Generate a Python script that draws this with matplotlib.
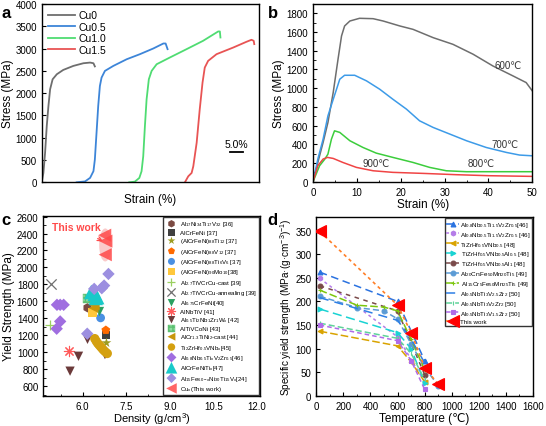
import matplotlib
matplotlib.use('Agg')
import matplotlib.pyplot as plt
from matplotlib.patches import Ellipse
import numpy as np

plt.rcParams['font.family'] = ['Liberation Sans', 'DejaVu Sans']
plt.rcParams['mathtext.fontset'] = 'custom'
plt.rcParams['mathtext.rm'] = 'Liberation Sans'
plt.rcParams['mathtext.it'] = 'Liberation Sans:italic'
plt.rcParams['mathtext.bf'] = 'Liberation Sans:bold'
plt.rcParams['axes.linewidth'] = 1.0

# ---------------- Panel a data: engineering stress-strain (shifted curves) ----
a_labels = ['Cu0', 'Cu0.5', 'Cu1.0', 'Cu1.5']
a_colors = ['#6e6e6e', '#3d85d8', '#4fdc72', '#e85454']
cu0_x = [0, 0.6, 1.2, 1.8, 2.4, 3.0, 3.9, 5.4, 7.7, 11.3, 14.9, 17.3, 18.5, 19.0]
cu0_y = [0, 210, 660, 1260, 1710, 2086, 2311, 2424, 2521, 2611, 2671, 2686, 2671, 2600]
cu05_x = [12.5, 15.5, 17.3, 18.5, 19.0, 19.6, 20.2, 20.8, 21.4, 22.6, 25.6, 30.4, 35.1, 39.9, 43.5, 44.3, 45.0]
cu05_y = [0, 20, 100, 250, 510, 1110, 1711, 2161, 2349, 2499, 2611, 2761, 2874, 3002, 3114, 3114, 2987]
cu10_x = [31.3, 33.3, 34.9, 35.7, 36.3, 36.9, 37.5, 38.3, 39.3, 41.1, 45.8, 51.8, 57.7, 63.1, 63.7, 63.9]
cu10_y = [0, 15, 98, 248, 585, 1261, 1861, 2311, 2499, 2649, 2799, 2987, 3174, 3384, 3384, 3249]
cu15_x = [51.2, 52.4, 53.6, 54.2, 55.4, 56.5, 57.5, 58.3, 59.5, 62.5, 68.5, 73.2, 75.0, 75.8, 76.0]
cu15_y = [0, 135, 210, 360, 886, 1636, 2236, 2574, 2724, 2874, 3024, 3152, 3197, 3174, 3100]
a_x = [cu0_x, cu05_x, cu10_x, cu15_x]
a_y = [cu0_y, cu05_y, cu10_y, cu15_y]

# ---------------- Panel b data: high temperature compression ----------------
b_labels = ['600℃', '700℃', '800℃', '900℃']
b_colors = ['#6e6e6e', '#3d9be8', '#3ccd3c', '#f04444']
t600_x = [0, 1.1, 2.3, 3.4, 4.6, 5.7, 6.5, 7.2, 8.4, 10.6, 13.7, 16.0, 19.8, 22.8, 27.4, 31.9, 36.5, 41.0, 45.6, 48.6, 50]
t600_y = [0, 206, 420, 633, 953, 1309, 1558, 1665, 1718, 1747, 1743, 1718, 1665, 1629, 1540, 1469, 1363, 1238, 1131, 1060, 971]
t700_x = [0, 1.1, 2.3, 3.4, 4.6, 5.3, 6.1, 7.2, 9.5, 12.2, 15.2, 18.2, 21.3, 24.3, 27.4, 31.2, 35.0, 39.5, 44.1, 47.1, 50]
t700_y = [0, 242, 455, 704, 880, 980, 1096, 1138, 1138, 1078, 989, 882, 776, 651, 580, 509, 438, 366, 313, 285, 277]
t800_x = [0, 1.5, 2.7, 3.4, 4.2, 4.9, 6.1, 8.4, 11.4, 14.4, 18.2, 22.8, 26.6, 30.4, 35.0, 41.0, 50]
t800_y = [0, 171, 242, 295, 455, 544, 527, 438, 366, 306, 260, 206, 153, 117, 107, 107, 107]
t900_x = [0, 1.1, 2.3, 3.3, 4.6, 6.8, 9.9, 13.7, 18.2, 25.1, 32.7, 40.3, 50]
t900_y = [0, 171, 242, 260, 249, 206, 153, 117, 100, 89, 75, 64, 57]
b_x = [t600_x, t700_x, t800_x, t900_x]
b_y = [t600_y, t700_y, t800_y, t900_y]
b_lab_pos = [(44.5, 1245), (43.7, 402), (38.4, 196), (14.4, 196)]

# ---------------- Panel c data: yield strength vs density --------------------
c_labels = [
    'Al$_{17}$Ni$_{34}$Ti$_{17}$V$_{32}$ [36]',
    'AlCrFeNi [37]',
    '(AlCrFeNi)$_{88}$Ti$_{12}$ [37]',
    '(AlCrFeNi)$_{88}$V$_{12}$ [37]',
    '(AlCrFeNi)$_{88}$Ti$_{6}$V$_{6}$ [37]',
    '(AlCrFeNi)$_{90}$Mo$_{10}$[38]',
    'Al$_{2.7}$TiVCrCu-cast [39]',
    'Al$_{2.7}$TiVCrCu-annealing [39]',
    'Al$_{0.75}$CrFeNi[40]',
    'AlNbTiV [41]',
    'Al$_{0.5}$Ti$_{2}$Nb$_{1}$Zr$_{1}$W$_{\\mathrm{x}}$ [42]',
    'AlTiVCoNi [43]',
    'AlCr$_{1.3}$TiNi$_{2}$-cast [44]',
    'Ti$_{2}$ZrHf$_{0.5}$VNb$_{\\mathrm{x}}$[45]',
    'Al$_{0.8}$Nb$_{0.5}$Ti$_{\\mathrm{x}}$V$_{2}$Zr$_{0.5}$[46]',
    'AlCrFeNiTi$_{\\mathrm{x}}$[47]',
    'Al$_{15}$Fe$_{60-x}$Ni$_{30}$Ti$_{15}$V$_{\\mathrm{x}}$[24]',
    'Cu$_{\\mathrm{x}}$(This work)',
]
c_density = [
    [6.17], [6.80], [6.82], [6.80], [6.62], [6.35], [4.89], [4.91], [6.58], [5.54],
    [5.57, 5.86, 6.17, 6.77], [6.18], [6.42, 6.38],
    [6.42, 6.47, 6.52, 6.57, 6.62, 6.67, 6.72, 6.78, 6.85],
    [5.12, 5.23, 5.35, 5.23, 5.11],
    [6.30, 6.42, 6.50, 6.45],
    [6.16, 6.40, 6.66, 6.74, 6.89],
    [6.76, 6.80, 6.78],
]
c_strength = [
    [1524], [1200], [1110], [1260], [1405], [1470], [1324], [1805], [1480], [1011],
    [776, 952, 1152, 972], [1632], [1550, 1520],
    [1160, 1130, 1105, 1085, 1065, 1045, 1025, 1005, 985],
    [1559, 1559, 1559, 1363, 1277],
    [1710, 1690, 1650, 1640],
    [1218, 1747, 1755, 1786, 1923],
    [2380, 2310, 2150],
]
c_markers = ['h', 's', '*', 'p', 'o', 's', '+', 'x', 'v', (8, 2, 0), 'v', 's', '<', 'o', 'D', '^', 'D', '<']
c_colors = ['#7b4a42', '#404040', '#9c9c22', '#ff6a00', '#4a90e2', '#ffc83c', '#9ad060', '#707070',
            '#2aa060', '#ff5a5a', '#6b3a3a', '#8fdca0', '#c8960c', '#d4a010', '#a06ee0', '#19c9c9',
            '#9c8fe0', '#ff4a4a']
c_sizes = [45, 35, 55, 45, 40, 45, 45, 55, 45, 55, 45, 45, 50, 45, 40, 110, 40, 90]

# ---------------- Panel d data: specific yield strength vs temperature -------
d_labels = [
    'Al$_{0.8}$Nb$_{0.5}$Ti$_{1.5}$V$_{2}$Zr$_{0.5}$[46]',
    'Al$_{0.8}$Nb$_{0.5}$Ti$_{1.5}$V$_{2}$Zr$_{0.5}$ [46]',
    'TiZrHf$_{0.5}$VNb$_{0.5}$ [48]',
    ' TiZrHf$_{0.5}$VNb$_{0.5}$Al$_{0.5}$ [48]',
    ' TiZrHf$_{0.5}$VNb$_{0.5}$Al$_{1}$ [48]',
    'Al$_{20}$Cr$_{5}$Fe$_{50}$Mn$_{20}$Ti$_{5}$ [49]',
    ' Al$_{15}$Cr$_{5}$Fe$_{50}$Mn$_{25}$Ti$_{5}$ [49]',
    'Al$_{0.5}$NbTi$_{3}$V$_{2.5}$Zr$_{2}$ [50]',
    'Al$_{0.5}$NbTi$_{3}$V$_{2}$Zr$_{2}$ [50]',
    'Al$_{0.5}$NbTi$_{3}$V$_{1.5}$Zr$_{2}$ [50]',
    'This work',
]
d_temp = [
    [25, 600, 800],
    [25, 600, 800],
    [25, 600, 700, 800],
    [25, 600, 700, 800],
    [25, 600, 800],
    [25, 300, 500, 600, 700, 800, 900],
    [25, 300, 500, 600, 700, 800],
    [25, 600, 700, 800],
    [25, 600, 700, 800],
    [25, 600, 700, 800],
    [25, 600, 700, 800, 900],
]
d_value = [
    [262, 200, 75],
    [249, 125, 30],
    [137, 106, 72, 30],
    [184, 134, 100, 28],
    [233, 180, 45],
    [211, 187, 180, 163, 110, 60, 22],
    [224, 192, 188, 180, 120, 55],
    [208, 160, 120, 70],
    [154, 122, 90, 35],
    [150, 117, 75, 14],
    [348, 192, 134, 60, 25],
]
d_colors = ['#2a72e0', '#b57ce8', '#d9a300', '#19d3d3', '#7a4a4a', '#5b9bd5', '#7cc60e',
            '#2d7fe6', '#5fd39a', '#b06be8', '#ff7f27']
d_mcolors = d_colors[:-1] + ['#ff0000']
d_markers = ['^', 'h', '<', '>', 'o', 'o', '+', '', '|', 's', '<']
d_dashes = [(5, 3), (2, 2), (5, 2), (6, 3), (3, 3), (4, 2), (5, 2), (6, 4), (4, 2), (3, 2), (2, 2)]

# ---------------- Figure ----------------------------------------------------
fig = plt.figure(figsize=(5.46, 4.27), dpi=100)
axa = fig.add_axes([0.0764, 0.5707, 0.398, 0.4176])
axb = fig.add_axes([0.5733, 0.5721, 0.4016, 0.4162])
axc = fig.add_axes([0.0793, 0.0696, 0.3969, 0.4229])
axd = fig.add_axes([0.5793, 0.0703, 0.3969, 0.4185])

TL = 7
AL = 8.5

# Panel a
for xs, ys, col, lab in zip(a_x, a_y, a_colors, a_labels):
    axa.plot(xs, ys, color=col, lw=1.3, label=lab)
axa.set_xlim(0, 77.7)
axa.set_ylim(0, 4000)
axa.set_yticks(np.arange(0, 4001, 500))
axa.set_xticks([])
axa.tick_params(direction='in', labelsize=TL, length=3)
axa.set_xlabel('Strain (%)', fontsize=AL, labelpad=8)
axa.set_ylabel('Stress (MPa)', fontsize=AL, labelpad=1)
axa.legend(loc='upper left', frameon=False, fontsize=7.5, handlelength=2.6,
           labelspacing=0.15, borderaxespad=0.2, handletextpad=0.3)
axa.plot([67.2, 71.9], [675, 675], color='black', lw=1.3)
axa.text(69.5, 740, '5.0%', ha='center', va='bottom', fontsize=7.5)

# Panel b
for xs, ys, col, lab, pos in zip(b_x, b_y, b_colors, b_labels, b_lab_pos):
    axb.plot(xs, ys, color=col, lw=1.1)
    axb.text(pos[0], pos[1], lab, fontsize=7, ha='center', va='center', color='#333333')
axb.set_xlim(0, 50)
axb.set_ylim(0, 1900)
axb.set_xticks(np.arange(0, 51, 10))
axb.set_yticks(np.arange(0, 1801, 200))
axb.set_xticks(np.arange(0, 51, 5), minor=True)
axb.set_yticks(np.arange(0, 1901, 100), minor=True)
axb.tick_params(direction='in', labelsize=TL, length=3)
axb.tick_params(which='minor', direction='in', length=1.8)
axb.set_xlabel('Strain (%)', fontsize=AL, labelpad=1)
axb.set_ylabel('Stress (MPa)', fontsize=AL, labelpad=1)

# Panel c
tw_x = c_density[-1]
tw_y = c_strength[-1]
ell = Ellipse((np.mean(tw_x), (max(tw_y) + min(tw_y)) / 2), 0.42,
              (max(tw_y) - min(tw_y)) + 160, facecolor='#f7a0a0', edgecolor='none', alpha=0.55, zorder=1)
axc.add_patch(ell)
handles = []
for i, (xs, ys, m, col, s, lab) in enumerate(zip(c_density, c_strength, c_markers, c_colors, c_sizes, c_labels)):
    kw = dict(marker=m, s=s, zorder=3, label=lab)
    if m in ('+', 'x'):
        kw.update(color=col, linewidths=0.9)
    elif isinstance(m, tuple):
        kw.update(color=col, linewidths=0.8)
    elif i == 11:
        kw.update(facecolor=col, edgecolor='#5cbf70', hatch='++++', linewidths=0.3)
    elif i == len(c_labels) - 1:
        kw.update(color=col, edgecolors='none', alpha=0.85)
    else:
        kw.update(color=col, edgecolors='none')
    h = axc.scatter(xs, ys, **kw)
    handles.append(h)
axc.annotate('This work', xy=(tw_x[1] - 0.06, tw_y[1] - 10), xytext=(5.78, 2480),
             fontsize=7.5, color='#ff4a4a', fontweight='bold', ha='center', va='center',
             arrowprops=dict(arrowstyle='->', color='#ff4a4a', lw=0.9, shrinkA=6, shrinkB=1))
axc.set_xlim(4.65, 12.1)
axc.set_ylim(480, 2610)
axc.set_xticks([6.0, 7.5, 9.0, 10.5, 12.0])
axc.set_xticklabels(['6.0', '7.5', '9.0', '10.5', '12.0'])
axc.set_yticks(np.arange(600, 2601, 200))
axc.set_yticks(np.arange(500, 2601, 100), minor=True)
axc.set_xticks(np.arange(5.25, 12.1, 0.75), minor=True)
axc.tick_params(direction='in', labelsize=TL, length=3)
axc.tick_params(which='minor', direction='in', length=1.8)
axc.set_xlabel('Density (g/cm$^{3}$)', fontsize=8, labelpad=-1)
axc.set_ylabel('Yield Strength (MPa)', fontsize=AL, labelpad=1)
legc = axc.legend(handles=handles, loc='upper right', bbox_to_anchor=(1.0, 0.995), fontsize=4.4,
                  frameon=True, fancybox=False, edgecolor='#333333', framealpha=1,
                  labelspacing=0.22, handletextpad=0.4, borderpad=0.35, scatterpoints=1,
                  markerscale=0.8, borderaxespad=0.1)
legc.get_frame().set_linewidth(1.0)

# Panel d
for T, v, col, mcol, m, dash, lab in zip(d_temp, d_value, d_colors, d_mcolors, d_markers, d_dashes, d_labels):
    big = (lab == 'This work')
    axd.plot(T, v, color=col, lw=1.1 if not big else 1.2, dashes=dash, marker=m if m else None,
             ms=8.5 if big else 3.5, mfc=mcol, mec=mcol, mew=0.8, label=lab, zorder=4 if big else 3)
axd.set_xlim(0, 1600)
axd.set_ylim(0, 378)
axd.set_xticks(np.arange(0, 1601, 200))
axd.set_yticks(np.arange(0, 351, 50))
axd.set_xticks(np.arange(0, 1601, 100), minor=True)
axd.tick_params(direction='in', labelsize=TL, length=3)
axd.tick_params(which='minor', direction='in', length=1.8)
axd.set_xlabel('Temperature (℃)', fontsize=AL, labelpad=1)
axd.set_ylabel('Specific yield strength (MPa·(g·cm$^{-3}$)$^{-1}$)', fontsize=7.2, labelpad=1)
legd = axd.legend(loc='upper right', bbox_to_anchor=(1.0, 1.0), fontsize=4.5, frameon=True,
                  fancybox=False, edgecolor='#333333', framealpha=1, labelspacing=0.14,
                  handlelength=2.0, handletextpad=0.2, borderpad=0.3, borderaxespad=0.1)
legd.get_frame().set_linewidth(1.0)

# Panel letters
fig.text(0.002, 0.985, 'a', fontsize=12, fontweight='bold', va='top')
fig.text(0.49, 0.985, 'b', fontsize=12, fontweight='bold', va='top')
fig.text(0.002, 0.5, 'c', fontsize=12, fontweight='bold', va='top')
fig.text(0.49, 0.5, 'd', fontsize=12, fontweight='bold', va='top')

fig.savefig('out.png', dpi=100)
